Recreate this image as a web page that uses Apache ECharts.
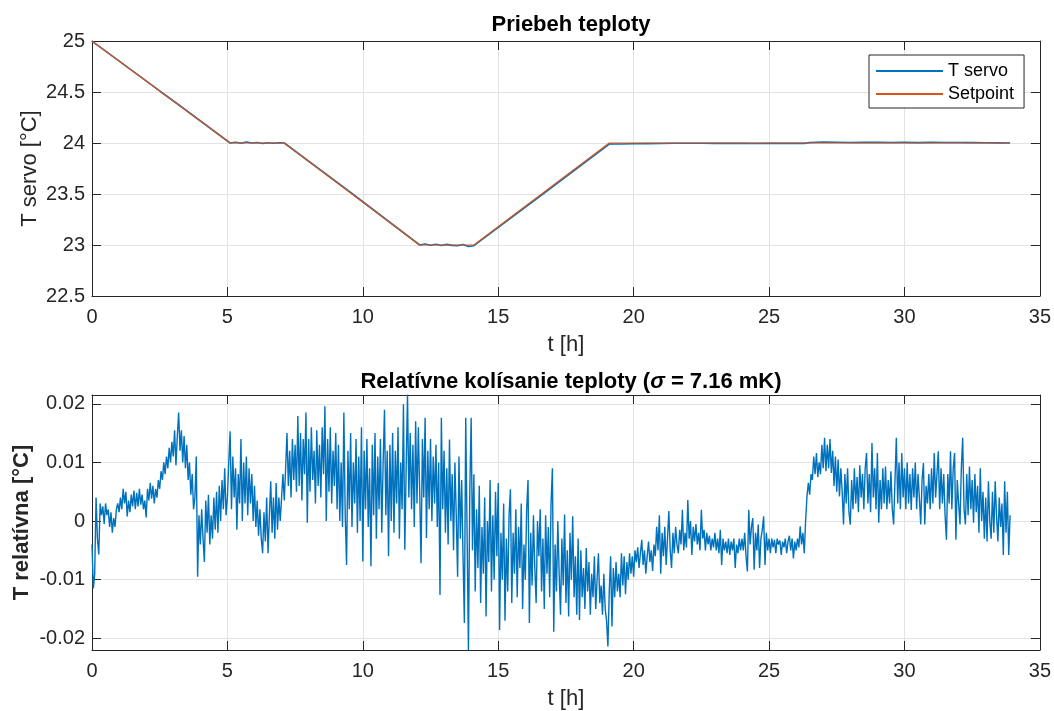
<!DOCTYPE html>
<html><head><meta charset="utf-8">
<script src="https://cdn.jsdelivr.net/npm/echarts@6/dist/echarts.min.js"></script>
<style>html,body{margin:0;padding:0;background:#fff}#c{width:1054px;height:711px}</style>
</head><body><div id="c"></div>
<script>
// ---- Top plot: setpoint breakpoints (t [h], T [°C]) ----
const setpointT = [0, 5.1, 7.1, 12.1, 14.1, 19.1, 33.9];
const setpointV = [25, 24, 24, 23, 23, 24, 24];

const servoT = [0, 0.05, 0.3, 2.5, 3.2, 5.1, 5.3, 5.5, 5.7, 5.9, 6.1, 6.3, 6.5, 6.7, 6.9, 7.1,
  9.6, 12.1, 12.3, 12.5, 12.7, 12.9, 13.1, 13.3, 13.5, 13.7, 13.9, 14.1, 16.6, 19.1,
  19.5, 20, 20.5, 21, 21.5, 22, 22.5, 23, 23.5, 24, 24.5, 25, 25.5, 26, 26.3, 26.5,
  27, 27.5, 28, 28.5, 29, 29.5, 30, 30.5, 31, 31.5, 32, 32.5, 33, 33.5, 33.9];
const servoV = [24.996, 24.988, 24.94, 24.51, 24.375, 24.0, 24.008, 23.998, 24.01, 24.0, 24.005, 23.995, 24.003, 23.997, 24.002, 24.0,
  23.505, 23.0, 23.01, 22.998, 23.008, 22.995, 23.006, 22.996, 22.992, 23.004, 22.985, 22.993, 23.49, 23.99,
  23.99, 23.993, 23.994, 23.995, 23.997, 23.998, 23.997, 23.996, 23.996, 23.996, 23.995, 23.996, 23.996, 23.996, 23.996, 24.005,
  24.01, 24.008, 24.005, 24.006, 24.007, 24.005, 24.006, 24.004, 24.006, 24.005, 24.005, 24.004, 24.002, 24.001, 24.0];

// ---- Bottom plot: relative temperature, in mK, sampled every relStepH hours from relStartH ----
const relStartH = 0;
const relStepH = 0.05;
const relMK = [
  // 0 h
  -4, -11.5, -9, 4, -3, -5.7, 3, 1, 2.5, -0.5, 3, 1, 2, -1, 1.5, -2, 0.5, -1, 2, 3,
  // 1 h
  1.5, 4, 2, 5.5, 3, 5, 0.8, 3.5, 1.5, 4.5, 2.5, 5.2, 2, 4.8, 2.5, 5.5, 2.8, 4.5, 2, 3.5,
  // 2 h
  0.6, 5.5, 3.5, 6.5, 3.8, 6, 3, 5.5, 4, 7, 5.5, 8.5, 7, 10, 8, 11, 9, 12.5, 10, 13.5,
  // 3 h
  11, 15.5, 9.5, 14.5, 18.5, 12, 15.5, 10, 14.5, 9, 13, 7, 10, 4.5, 8, 2, 4, 11, -9.5, 1,
  // 4 h
  -4, 2, -3, -7, 3.5, -2, 4.5, -4, 1, -3, 4, -1.5, 5, -2, 6, 0, 7, 2, 9, 1,
  // 5 h
  4, 10, 15.3, 2, 11, 4, 9, -1.5, 8, 3, 14, 0, 10, 3, 11, 1, 9, 3, 8, 0,
  // 6 h
  6, -1, 3.5, -2.5, 2, -3, -5.5, 1.5, -3.5, 4, -5.5, 1, 6.8, -2, 4, -3, 6.5, -1.5, 4, 0,
  // 7 h
  4, 8, 3.5, 9, 15, 6, 12, 4, 14, 7, 13, 5, 17.9, 6, 15, 3.5, 14, 8, 18.5, -0.3,
  // 8 h
  14, 5, 16, 7, 12, 3, 15.5, 6, 13, 4, 16, 8, 19.6, 0, 14, 5, 16, 3, 12, 6,
  // 9 h
  15, 2, 13, 0, 10, -1, 18.5, 1, -7.5, 12, 2, 15, -1, 10, 3, 14, -2, 11, 0, 16,
  // 10 h
  -6.9, 12, 2, 14, -1, 9, -7.7, 13, 1, 15, -3, 11, 2, 14, -2, 10, 19, 1, 12, -6,
  // 11 h
  13, 0, 15, -2, 12, 3, 16, -3, 10, 2, 19.9, -4.9, 9, 21.6, 4, 15, 2, 13, -1, 17,
  // 12 h
  3, 16, 5, -7.2, 14, 4, 17.6, -2.9, 12, 2, 14, 0, 11, 3, 13, -1, 10, -12.6, 17.6, 2,
  // 13 h
  12, -2, 9, -4, 13.9, 0, 8, -5, 10, 1, -9.5, 11, -3, 7, -6, -17.4, 17.6, -2, -22, 5,
  // 14 h
  17.6, -5, 8, -12, 2, -8, 6, -14, -1, -9, 4, -16.3, 0, -7, 7, -12, 1, -10, 5, -6,
  // 15 h
  6.5, -18.6, -2, -10, 3, -17, -3, -12, 1, 5.4, -14, -2, -9, 2, -13, -1, -8, 3, -15, -4,
  // 16 h
  -10, 2, 7, -17.4, -2, -11, 1, -8, -14, 0, -6, 2, -12, -3, -15, 1, -9, -1, -13, 3,
  // 17 h
  9, -18.9, -4, -12, 0, -9, -16, -3, -11, 1.1, -14, -5, -16.3, -2, -10, 0.8, -13, -6, -16, -3,
  // 18 h
  -16.9, -5, -13, -8, -15, -4.6, -12, -7, -16, -9, -13, -6, -15, -10, -5.5, -14, -11, -16, -9, -15,
  // 19 h
  -17, -21.4, -12, -6, -18, -8, -13, -7, -12, -9, -13, -5.5, -11, -6, -12.5, -7, -10, -5.5, -9, -6,
  // 20 h
  -9.5, -5, -7, -4.5, -8, -5.5, -3.2, -7.5, -5, -9, -6, -3.5, -7, -5, -8.5, -4, -6, -1, -5, 1,
  // 21 h
  -9, -2, -6, -1, -7.5, -3, 1.7, -5, -8, -2, -5.5, -1, -4, -5.5, -1.5, -4, 1.9, -5, -2, -4.5,
  // 22 h
  3.6, -3, 0, -5.8, -1, -3.5, -0.5, -4, -2, -5, 1.9, -3, -1.5, -5, -2, -4, -2.5, -5, -3, -4.5,
  // 23 h
  -2, -5, -3, -5.5, -1.5, -7.5, -3, -5, -3.5, -5.5, -3, -5.8, -3.5, -5, -3, -8, -4, -5.5, -3, -5,
  // 24 h
  -3, -5, -2, -6, -8.6, 1.9, -4, -1, 0.5, -8.3, -2, -5, -0.6, -8, -3, -1.5, 0.8, -7.5, -2, -5,
  // 25 h
  -3, -5.5, -3, -4.5, -3.2, -5.5, -3, -4, -3.3, -5.8, -3.5, -4.5, -3, -5.5, -3.5, -2.5, -5, -3, -6.4, -3.5,
  // 26 h
  -5, -3, -4.5, -0.9, -4, -2, -5.5, 0, 4.2, 6.5, 4.5, 8, 7, 11, 8, 11.6, 7.5, 10, 8, 13,
  // 27 h
  9, 14.2, 8.5, 13, 9, 14, 8.2, 12, 6, 11, 5, 10.5, 4.2, 9, 5, -0.6, 8, 3, 9, 1.5,
  // 28 h
  -0.6, 7, 2, 9, 3, 7.5, 1.5, 9.5, 4, 8, 2, 9, 11.6, 3, 8, 1.5, 13.3, 4, 9, 2,
  // 29 h
  11.6, -0.3, 7, 2, 9, 3, 9.3, 2, 7, 3, 8.5, 2, -0.6, 7, 14.2, 3, 10, 2, 11.6, 4,
  // 30 h
  9, 2, 10, 3, 8, 1.9, 9, 4, 10, 2, 8, 4, -0.6, 7, 9.9, -0.6, 6, 3, 8, 2,
  // 31 h
  9, 3, 11.6, 4, 8, 11.9, 2, 9, 3, 8, 1, -3.2, 8, 3, 11.9, 2, 9, 11.6, -3.2, 7,
  // 32 h
  3, -0.6, 9, 14.2, 2, -0.6, 8, 1, 9.3, 2, 7, -0.3, 8, 1.5, 6, -2, 9, 0, 5, -3,
  // 33 h
  4, -3.5, 6.8, 0, -3, 5, -2, 6.8, 1, -3.5, 4, -1, 3, -5.8, 6.8, -2, 5, -5.8, 1
];

// ---- Axis ranges / ticks ----
const xMin = 0, xMax = 35, xStep = 5;
const topYMin = 22.5, topYMax = 25, topYStep = 0.5;
const botYMin = -0.022, botYMax = 0.0215;

const FONT = "'Liberation Sans', Arial, Helvetica, sans-serif";
const AX = '#262626';
const GRIDC = '#e3e3e3';

const setpointData = setpointT.map((t, i) => [t, setpointV[i]]);
const servoData = servoT.map((t, i) => [t, servoV[i]]);
const relData = relMK.map((v, i) => [+(relStartH + i * relStepH).toFixed(4), v / 1000]);

function xAx(grid, pos, main) {
  return {
    type: 'value', gridIndex: grid, position: pos, min: xMin, max: xMax, interval: xStep,
    axisLine: { show: true, onZero: false, lineStyle: { color: AX, width: 1 } },
    axisTick: { show: true, inside: true, length: 9, lineStyle: { color: AX } },
    axisLabel: { show: main, margin: 11, fontSize: 20, color: AX, fontFamily: FONT },
    splitLine: { show: main, lineStyle: { color: GRIDC, width: 1 } },
    name: main ? 't [h]' : '', nameLocation: 'middle', nameGap: 38, nameMoveOverlap: false,
    nameTextStyle: { fontSize: 22, color: AX, fontFamily: FONT }
  };
}
function yAxTop(pos, main) {
  return {
    type: 'value', gridIndex: 0, position: pos, min: topYMin, max: topYMax, interval: topYStep,
    axisLine: { show: true, onZero: false, lineStyle: { color: AX, width: 1 } },
    axisTick: { show: true, inside: true, length: 9, lineStyle: { color: AX } },
    axisLabel: { show: main, margin: 7, fontSize: 20, color: AX, fontFamily: FONT },
    splitLine: { show: main, lineStyle: { color: GRIDC, width: 1 } },
    name: main ? 'T servo [°C]' : '', nameLocation: 'middle', nameGap: 51, nameRotate: 90,
    nameMoveOverlap: false,
    nameTextStyle: { fontSize: 22, color: AX, fontFamily: FONT }
  };
}
function yAxBot(pos, main) {
  return {
    type: 'value', gridIndex: 1, position: pos, min: botYMin, max: botYMax, splitNumber: 4,
    axisLine: { show: true, onZero: false, lineStyle: { color: AX, width: 1 } },
    axisTick: { show: true, inside: true, length: 9, lineStyle: { color: AX } },
    axisLabel: {
      show: main, margin: 7, fontSize: 20, color: AX, fontFamily: FONT,
      showMinLabel: false, showMaxLabel: false,
      formatter: v => {
        const k = v * 100;
        if (Math.abs(k - Math.round(k)) > 1e-6) return '';
        const r = Math.round(k) / 100;
        return r === 0 ? '0' : String(r);
      }
    },
    splitLine: { show: main, lineStyle: { color: GRIDC, width: 1 } },
    name: main ? 'T relatívna [°C]' : '', nameLocation: 'middle', nameGap: 59, nameRotate: 90,
    nameMoveOverlap: false,
    nameTextStyle: { fontSize: 22, fontWeight: 'bold', color: AX, fontFamily: FONT }
  };
}

const chart = echarts.init(document.getElementById('c'), null, { renderer: 'canvas' });
chart.setOption({
  animation: false,
  backgroundColor: '#fff',
  textStyle: { fontFamily: FONT },
  title: [
    { text: 'Priebeh teploty', left: 566, top: 9, textAlign: 'center',
      textStyle: { fontSize: 22, fontWeight: 'bold', color: '#000', fontFamily: FONT } },
    { text: '{b|Relatívne kolísanie teploty (}{s|σ}{b| = 7.16 mK)}', left: 566, top: 366, textAlign: 'center',
      textStyle: { rich: {
        b: { fontSize: 22, fontWeight: 'bold', color: '#000', fontFamily: FONT },
        s: { fontSize: 22, fontStyle: 'italic', color: '#000', fontFamily: FONT }
      } } }
  ],
  legend: {
    data: ['T servo', 'Setpoint'], orient: 'vertical', left: 869, top: 55,
    padding: [6, 10, 4, 7], itemGap: 3, itemWidth: 67, itemHeight: 2, icon: 'rect',
    backgroundColor: '#fff', borderColor: AX, borderWidth: 1,
    textStyle: { fontSize: 18, color: '#000', fontFamily: FONT, lineHeight: 20 }
  },
  grid: [
    { left: 92, top: 41, width: 948, height: 255 },
    { left: 92, top: 395, width: 948, height: 255 }
  ],
  xAxis: [xAx(0, 'bottom', true), xAx(0, 'top', false), xAx(1, 'bottom', true), xAx(1, 'top', false)],
  yAxis: [yAxTop('left', true), yAxTop('right', false), yAxBot('left', true), yAxBot('right', false)],
  series: [
    { name: 'T servo', type: 'line', xAxisIndex: 0, yAxisIndex: 0, data: servoData,
      showSymbol: false, symbol: 'none', color: '#0072BD', lineStyle: { width: 1.6, color: '#0072BD' } },
    { name: 'Setpoint', type: 'line', xAxisIndex: 0, yAxisIndex: 0, data: setpointData,
      showSymbol: false, symbol: 'none', color: '#D95319', lineStyle: { width: 1.2, color: '#D95319' } },
    { name: 'T relatívna', type: 'line', xAxisIndex: 2, yAxisIndex: 2, data: relData,
      showSymbol: false, symbol: 'none', color: '#0072BD', lineStyle: { width: 1.4, color: '#0072BD' } }
  ]
});
</script>
</body></html>
